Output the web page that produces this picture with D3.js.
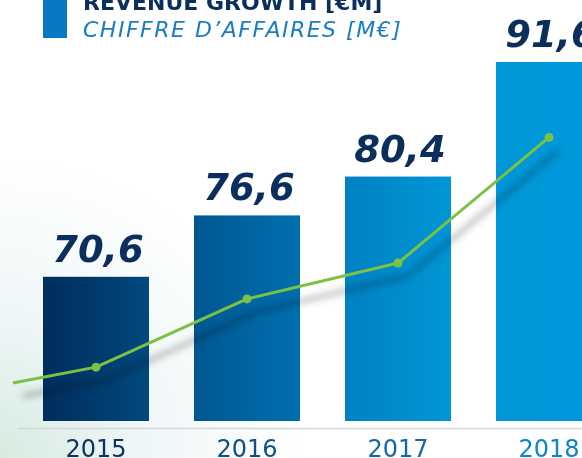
<!DOCTYPE html>
<html><head><meta charset="utf-8">
<script src="https://cdn.jsdelivr.net/npm/d3@7"></script>
<style>html,body{margin:0;padding:0;background:#fff;overflow:hidden}svg{display:block}</style>
</head><body>
<script>
const years = ["2015", "2016", "2017", "2018"];
const revenue = [70.6, 76.6, 80.4, 91.6];
const valueLabels = ["70,6", "76,6", "80,4", "91,6"];
const trend = [1.5, 3.4, 4.4, 7.9];
const trendLead = 1.06;
const barColors = [["#002d5c", "#00497e"], ["#005791", "#006fae"], ["#0081c3", "#0096d6"], ["#0097d9", "#0098da"]];
const yearColors = ["#0d3461", "#0e4f85", "#1467a3", "#0b86c9"];
const titleEn = "REVENUE GROWTH [€M]";
const titleFr = "CHIFFRE D’AFFAIRES [M€]";

const W = 582, H = 458;
const svg = d3.select("body").append("svg").attr("width", W).attr("height", H);
const defs = svg.append("defs");

const bg = defs.append("radialGradient").attr("id", "bg")
  .attr("gradientUnits", "userSpaceOnUse").attr("cx", 0).attr("cy", H).attr("r", 300);
bg.append("stop").attr("offset", 0).attr("stop-color", "#d6ebe0");
bg.append("stop").attr("offset", 0.45).attr("stop-color", "#eef6f7");
bg.append("stop").attr("offset", 1).attr("stop-color", "#ffffff");
svg.append("rect").attr("width", W).attr("height", H).attr("fill", "url(#bg)");

barColors.forEach((c, i) => {
  const g = defs.append("linearGradient").attr("id", "bar" + i).attr("x1", 0).attr("x2", 1).attr("y1", 0).attr("y2", 0);
  g.append("stop").attr("offset", 0).attr("stop-color", c[0]);
  g.append("stop").attr("offset", 1).attr("stop-color", c[1]);
});
const blur = defs.append("filter").attr("id", "blur").attr("x", "-20%").attr("y", "-50%").attr("width", "140%").attr("height", "200%");
blur.append("feGaussianBlur").attr("stdDeviation", 3);

const x = d3.scaleBand().domain(years).range([20.5, 624.5]).paddingInner(0.298).paddingOuter(0.149);
const y = d3.scaleLinear().domain([56.5, 91.6]).range([421, 62]);
const y2 = d3.scaleLinear().domain([0, 10]).range([421, 62]);
const cx = d => x(d) + x.bandwidth() / 2;

// legend
svg.append("rect").attr("x", 43).attr("y", 0).attr("width", 24).attr("height", 38).attr("fill", "#0878c4");
svg.append("text").attr("x", 83).attr("y", 10).text(titleEn)
  .attr("font-family", "DejaVu Sans").attr("font-weight", "bold").attr("font-size", 22).attr("fill", "#0b2f5c");
svg.append("text").attr("x", 83).attr("y", 37).text(titleFr)
  .attr("font-family", "DejaVu Sans").attr("font-style", "italic").attr("font-size", 22)
  .attr("letter-spacing", 1.5).attr("fill", "#1a7cc2");

// bars
svg.append("g").selectAll("rect").data(years).join("rect")
  .attr("x", d => x(d)).attr("width", x.bandwidth())
  .attr("y", (d, i) => y(revenue[i])).attr("height", (d, i) => y(56.5) - y(revenue[i]))
  .attr("fill", (d, i) => `url(#bar${i})`);

// value labels
svg.append("g").selectAll("text").data(years).join("text")
  .attr("x", d => cx(d) + 2).attr("y", (d, i) => y(revenue[i]) - 15)
  .attr("text-anchor", "middle").attr("font-family", "DejaVu Sans").attr("font-weight", "bold")
  .attr("font-style", "italic").attr("font-size", 37).attr("fill", "#0b2f5c")
  .text((d, i) => valueLabels[i]);

// axis baseline
svg.append("line").attr("x1", 18).attr("x2", W).attr("y1", 428.5).attr("y2", 428.5)
  .attr("stroke", "#d3d6da").attr("stroke-width", 1.5);

// year labels
svg.append("g").selectAll("text").data(years).join("text")
  .attr("x", d => cx(d)).attr("y", 457).attr("text-anchor", "middle")
  .attr("font-family", "DejaVu Sans").attr("font-size", 24)
  .attr("fill", (d, i) => yearColors[i]).text(d => d);

// trend line
const pts = [[cx(years[0]) - 0.55 * x.step(), y2(trendLead)]].concat(years.map((d, i) => [cx(d), y2(trend[i])]));
const line = d3.line();
svg.append("path").attr("d", line(pts)).attr("fill", "none")
  .attr("stroke", "#444").attr("stroke-opacity", 0.28).attr("stroke-width", 6)
  .attr("transform", "translate(10,13)").attr("filter", "url(#blur)").style("mix-blend-mode", "multiply");
svg.append("path").attr("d", line(pts)).attr("fill", "none")
  .attr("stroke", "#7bc143").attr("stroke-width", 3).attr("stroke-linejoin", "round");
svg.append("g").selectAll("circle").data(pts.slice(1)).join("circle")
  .attr("cx", d => d[0]).attr("cy", d => d[1]).attr("r", 4.5).attr("fill", "#7bc143");
</script>
</body></html>
